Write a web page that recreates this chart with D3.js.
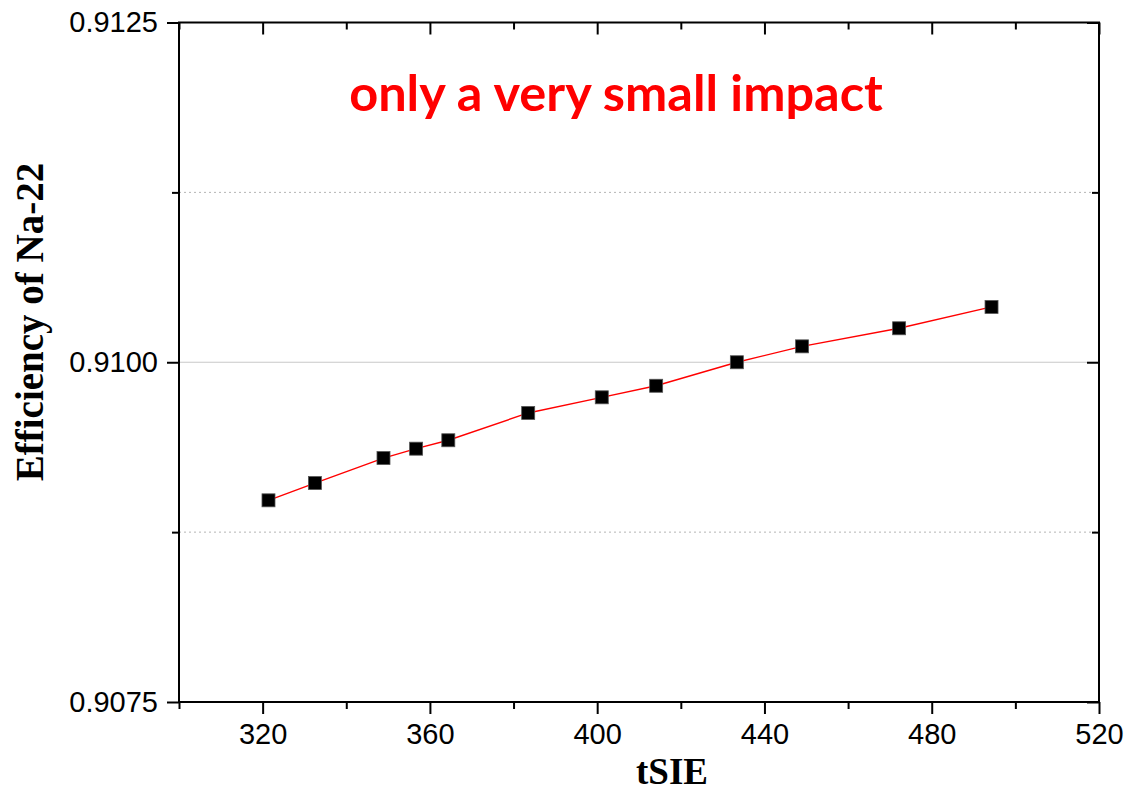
<!DOCTYPE html>
<html>
<head>
<meta charset="utf-8">
<script src="https://cdn.jsdelivr.net/npm/d3@7"></script>
<style>
  html, body { margin: 0; padding: 0; background: #fff; }
  svg { display: block; }
</style>
</head>
<body>
<svg id="chart" width="1127" height="792"></svg>
<script>
// Measured efficiency of Na-22 against the quench indicator tSIE
const tsie = [321.4, 332.5, 348.9, 356.7, 364.4, 383.5, 401.1, 414.1, 433.4, 449.0, 472.2, 494.3];
const efficiency = [0.908984, 0.909111, 0.909295, 0.909364, 0.909426, 0.909627, 0.909742, 0.909827, 0.910000, 0.910117, 0.910250, 0.910407];

const xMajorTicks = [320, 360, 400, 440, 480, 520];
const xMinorTicks = [300, 340, 380, 420, 460, 500];
const yMajorTicks = [0.9075, 0.9100, 0.9125];
const yMinorTicks = [0.90875, 0.91125];
const yTickLabels = ["0.9075", "0.9100", "0.9125"];

const titleText = "only a very small impact";
const xLabel = "tSIE";
const yLabel = "Efficiency of Na-22";

const svg = d3.select("#chart");
const plotLeft = 179, plotRight = 1099, plotTop = 22.5, plotBottom = 702;

const x = d3.scaleLinear().domain([300, 520]).range([plotLeft, plotRight]);
const y = d3.scaleLinear().domain([0.9075, 0.9125]).range([plotBottom, plotTop]);

// horizontal grid: solid at the major value, dotted at the minor ones
svg.append("g").selectAll("line")
  .data([0.9100]).join("line")
  .attr("x1", plotLeft).attr("x2", plotRight)
  .attr("y1", d => y(d)).attr("y2", d => y(d))
  .attr("stroke", "#c8c8c8").attr("stroke-width", 1.2);
svg.append("g").selectAll("line")
  .data(yMinorTicks).join("line")
  .attr("x1", plotLeft).attr("x2", plotRight)
  .attr("y1", d => y(d)).attr("y2", d => y(d))
  .attr("stroke", "#b4b4b4").attr("stroke-width", 1)
  .attr("stroke-dasharray", "2,3");

function styleAxis(g) {
  g.selectAll(".domain").remove();
  g.selectAll(".tick line").attr("stroke", "#000").attr("stroke-width", 2);
  g.selectAll("text")
    .attr("font-family", "'Liberation Sans', Arial, sans-serif")
    .attr("font-size", 29).attr("fill", "#000");
}

// bottom axis (outward ticks, labelled)
svg.append("g").attr("transform", `translate(0,${plotBottom})`)
  .call(d3.axisBottom(x).tickValues(xMajorTicks).tickSize(12).tickPadding(9).tickFormat(d3.format("d")))
  .call(styleAxis);
svg.append("g").attr("transform", `translate(0,${plotBottom})`)
  .call(d3.axisBottom(x).tickValues(xMinorTicks).tickSize(7).tickFormat(""))
  .call(styleAxis);

// top axis (inward ticks, no labels)
svg.append("g").attr("transform", `translate(0,${plotTop})`)
  .call(d3.axisTop(x).tickValues(xMajorTicks).tickSize(-12).tickFormat(""))
  .call(styleAxis);
svg.append("g").attr("transform", `translate(0,${plotTop})`)
  .call(d3.axisTop(x).tickValues(xMinorTicks).tickSize(-7).tickFormat(""))
  .call(styleAxis);

// left axis (outward ticks, labelled)
svg.append("g").attr("transform", `translate(${plotLeft},0)`)
  .call(d3.axisLeft(y).tickValues(yMajorTicks).tickSize(12).tickPadding(9)
    .tickFormat((d, i) => yTickLabels[i]))
  .call(styleAxis);
svg.append("g").attr("transform", `translate(${plotLeft},0)`)
  .call(d3.axisLeft(y).tickValues(yMinorTicks).tickSize(7).tickFormat(""))
  .call(styleAxis);

// right axis (inward ticks, no labels)
svg.append("g").attr("transform", `translate(${plotRight},0)`)
  .call(d3.axisRight(y).tickValues(yMajorTicks).tickSize(-12).tickFormat(""))
  .call(styleAxis);
svg.append("g").attr("transform", `translate(${plotRight},0)`)
  .call(d3.axisRight(y).tickValues(yMinorTicks).tickSize(-7).tickFormat(""))
  .call(styleAxis);

// frame
svg.append("rect")
  .attr("x", plotLeft).attr("y", plotTop)
  .attr("width", plotRight - plotLeft).attr("height", plotBottom - plotTop)
  .attr("fill", "none").attr("stroke", "#000").attr("stroke-width", 2);

// connecting line
const pts = tsie.map((t, i) => [t, efficiency[i]]);
svg.append("path")
  .datum(pts)
  .attr("fill", "none")
  .attr("stroke", "#ff0000")
  .attr("stroke-width", 1.4)
  .attr("d", d3.line().x(d => x(d[0])).y(d => y(d[1])));

// square markers
const ms = 13;
svg.append("g").selectAll("rect")
  .data(pts).join("rect")
  .attr("x", d => x(d[0]) - ms / 2)
  .attr("y", d => y(d[1]) - ms / 2)
  .attr("width", ms).attr("height", ms)
  .attr("fill", "#000")
  .attr("stroke", "#555").attr("stroke-width", 0.8);

// annotation
svg.append("text")
  .attr("x", 616).attr("y", 110.5)
  .attr("text-anchor", "middle")
  .attr("font-family", "Lato, 'Open Sans', sans-serif")
  .attr("font-weight", 700)
  .attr("font-size", 50.5)
  .attr("fill", "#ff0000")
  .text(titleText);

// axis titles
svg.append("text")
  .attr("x", 672).attr("y", 784)
  .attr("text-anchor", "middle")
  .attr("font-family", "'Liberation Serif', 'Times New Roman', serif")
  .attr("font-weight", 700)
  .attr("font-size", 37)
  .attr("fill", "#000")
  .text(xLabel);

svg.append("text")
  .attr("transform", "translate(43,322) rotate(-90)")
  .attr("text-anchor", "middle")
  .attr("font-family", "'Liberation Serif', 'Times New Roman', serif")
  .attr("font-weight", 700)
  .attr("font-size", 39)
  .attr("fill", "#000")
  .text(yLabel);
</script>
</body>
</html>
